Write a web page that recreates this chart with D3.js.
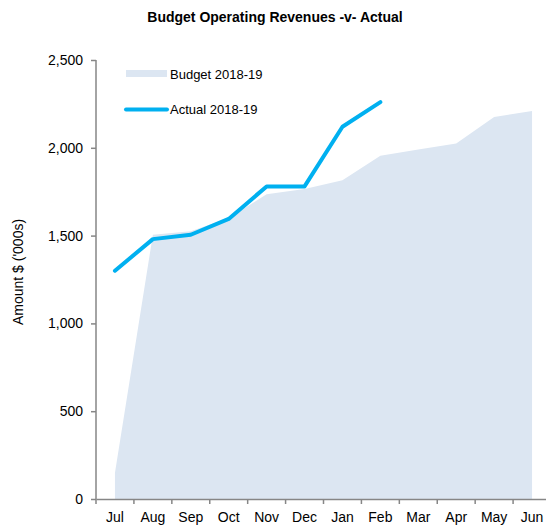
<!DOCTYPE html>
<html>
<head>
<meta charset="utf-8">
<script src="https://cdn.jsdelivr.net/npm/d3@7"></script>
<style>
  body { margin: 0; background: #fff; }
  text { font-family: "Liberation Sans", Arial, sans-serif; }
</style>
</head>
<body>
<div id="chart-area"></div>
<script>
// data
const months = ["Jul", "Aug", "Sep", "Oct", "Nov", "Dec", "Jan", "Feb", "Mar", "Apr", "May", "Jun"];
const budget = [150, 1505, 1525, 1600, 1735, 1765, 1815, 1955, 1990, 2025, 2175, 2210];
const actual = [1300, 1480, 1505, 1595, 1780, 1780, 2120, 2260];
const yTicks = [0, 500, 1000, 1500, 2000, 2500];

const margin = { left: 96, right: -5, top: 60, bottom: 31 };
const width = 546 - margin.left - margin.right,
  height = 530 - margin.top - margin.bottom;

const svg = d3.select("#chart-area")
  .append("svg")
  .attr("width", 546)
  .attr("height", 530);

const g = svg.append("g")
  .attr("transform", "translate(" + margin.left + ", " + margin.top + ")");

// title
svg.append("text")
  .attr("x", 275)
  .attr("y", 22)
  .attr("text-anchor", "middle")
  .attr("font-size", "14px")
  .attr("font-weight", "bold")
  .text("Budget Operating Revenues -v- Actual");

// y label
svg.append("text")
  .attr("x", -272)
  .attr("y", 23)
  .attr("transform", "rotate(-90)")
  .attr("text-anchor", "middle")
  .attr("font-size", "14px")
  .text("Amount $ ('000s)");

const x = d3.scaleBand()
  .domain(months)
  .range([0, width])
  .padding(0);

const cx = (m) => x(m) + x.bandwidth() / 2;

const y = d3.scaleLinear()
  .domain([0, 2500])
  .range([height, 0]);

// budget area
const area = d3.area()
  .x((d, i) => cx(months[i]))
  .y0(height)
  .y1((d) => y(d));

g.append("path")
  .datum(budget)
  .attr("d", area)
  .attr("fill", "#dce6f2");

// axes
const yAxisCall = d3.axisLeft(y)
  .tickValues(yTicks)
  .tickSize(5)
  .tickPadding(8)
  .tickFormat(d3.format(","));
const yAxis = g.append("g")
  .attr("class", "y-axis")
  .call(yAxisCall);
yAxis.select(".domain").attr("stroke", "#868686").attr("stroke-width", 1.5).attr("d", "M0," + height + "V0");
yAxis.selectAll(".tick line").attr("stroke", "#868686").attr("stroke-width", 1.5);
yAxis.selectAll("text").attr("font-size", "14px").attr("fill", "#000")
  .attr("font-family", "Liberation Sans, Arial, sans-serif");

const xAxisCall = d3.axisBottom(x)
  .tickSize(0)
  .tickPadding(13);
const xAxis = g.append("g")
  .attr("class", "x axis")
  .attr("transform", "translate(0, " + height + ")")
  .call(xAxisCall);
xAxis.select(".domain").attr("stroke", "#868686").attr("stroke-width", 1.5);
xAxis.selectAll("text").attr("font-size", "14px").attr("fill", "#000")
  .attr("font-family", "Liberation Sans, Arial, sans-serif");

// boundary ticks between months
xAxis.selectAll(".bound")
  .data(months)
  .enter()
  .append("line")
  .attr("class", "bound")
  .attr("x1", (d) => x(d))
  .attr("x2", (d) => x(d))
  .attr("y1", 0)
  .attr("y2", 5)
  .attr("stroke", "#868686")
  .attr("stroke-width", 1.5);

// actual line
const line = d3.line()
  .x((d, i) => cx(months[i]))
  .y((d) => y(d));

g.append("path")
  .datum(actual)
  .attr("d", line)
  .attr("fill", "none")
  .attr("stroke", "#00b0f0")
  .attr("stroke-width", 4)
  .attr("stroke-linejoin", "round")
  .attr("stroke-linecap", "round");

// legend
const legend = svg.append("g");
legend.append("rect")
  .attr("x", 126)
  .attr("y", 70)
  .attr("width", 41)
  .attr("height", 7)
  .attr("fill", "#dce6f2");
legend.append("text")
  .attr("x", 170)
  .attr("y", 79)
  .attr("font-size", "13px")
  .text("Budget 2018-19");
legend.append("line")
  .attr("x1", 126)
  .attr("x2", 167)
  .attr("y1", 109.5)
  .attr("y2", 109.5)
  .attr("stroke", "#00b0f0")
  .attr("stroke-width", 4)
  .attr("stroke-linecap", "round");
legend.append("text")
  .attr("x", 170)
  .attr("y", 114)
  .attr("font-size", "13px")
  .text("Actual 2018-19");
</script>
</body>
</html>
